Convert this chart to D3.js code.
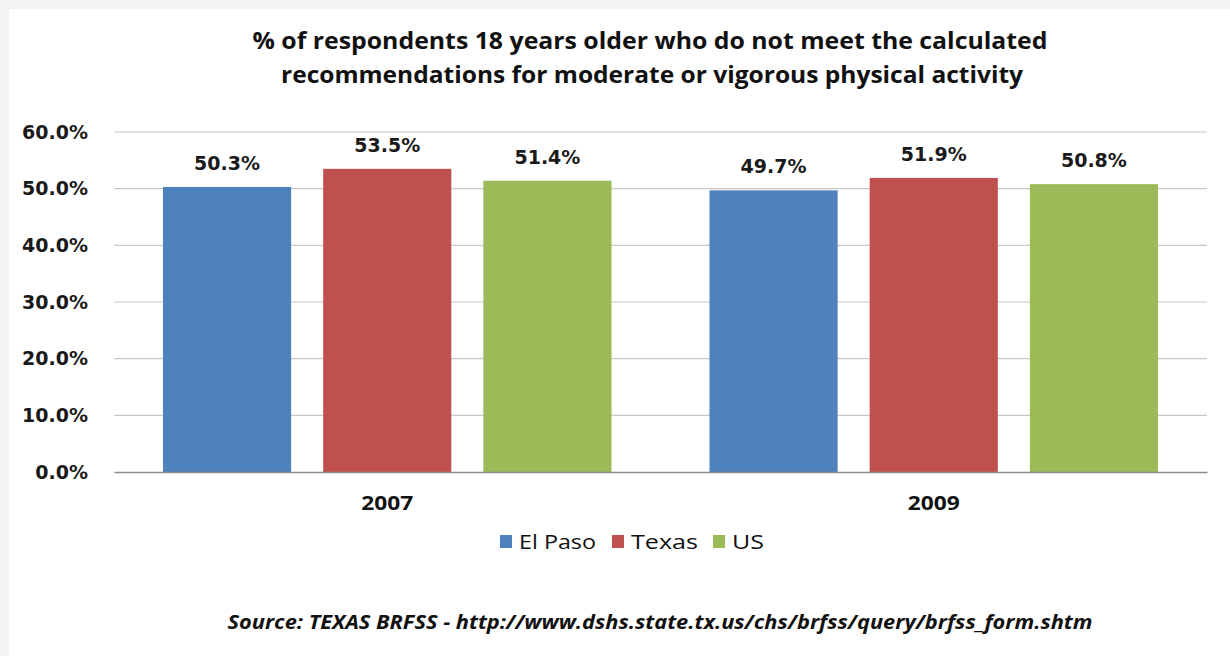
<!DOCTYPE html>
<html>
<head>
<meta charset="utf-8">
<script src="https://cdn.jsdelivr.net/npm/d3@7"></script>
<style>
  body { margin: 0; background: #fff; }
  svg { display: block; }
</style>
</head>
<body>
<svg id="chart" width="1230" height="656"></svg>
<script>
// data
let years = ['2007', '2009']
let series = ['El Paso', 'Texas', 'US']
let elPaso = [50.3, 49.7]
let texas = [53.5, 51.9]
let us = [51.4, 50.8]
let yTicks = [0, 10, 20, 30, 40, 50, 60]
let colors = ['#4F81BD', '#C0504D', '#9BBB59']

let titleLines = [
  '% of respondents 18 years older who do not meet the calculated',
  'recommendations for moderate or vigorous physical activity'
]
let sourceText = 'Source: TEXAS BRFSS - http://www.dshs.state.tx.us/chs/brfss/query/brfss_form.shtm'

let values = [elPaso, texas, us]
let rows = []
years.forEach((yr, i) => {
  series.forEach((s, j) => {
    rows.push({ year: yr, series: s, value: values[j][i], color: colors[j] })
  })
})

let svg = d3.select('#chart')

// faint outer frame like the pasted chart
svg.append('rect')
   .attr('x', 0).attr('y', 0).attr('width', 1230).attr('height', 656)
   .attr('fill', '#f3f3f3')
svg.append('rect')
   .attr('x', 9).attr('y', 9).attr('width', 1230).attr('height', 656)
   .attr('fill', '#fff')

let plotL = 114, plotR = 1207, plotT = 132, plotB = 472

let x0 = d3.scaleBand().domain(years).range([plotL, plotR])
let x1 = d3.scaleBand().domain(series)
           .range([49, x0.bandwidth() - 49])
           .paddingInner(0.2)
let y = d3.scaleLinear().domain([0, 60]).range([plotB, plotT])

// gridlines
svg.append('g')
   .selectAll('line')
   .data(yTicks.filter(t => t > 0))
   .enter()
   .append('line')
   .attr('x1', plotL).attr('x2', plotR)
   .attr('y1', d => y(d)).attr('y2', d => y(d))
   .attr('stroke', '#c8c8c8')
   .attr('stroke-width', 1.2)

// y axis labels
let yAxis = d3.axisLeft(y).tickValues(yTicks).tickSize(0).tickPadding(26)
              .tickFormat(d => d.toFixed(1) + '%')
let yg = svg.append('g').attr('transform', `translate(${plotL},0)`).call(yAxis)
yg.select('.domain').remove()
yg.selectAll('text')
  .attr('font-family', 'DejaVu Sans, Verdana, sans-serif')
  .attr('font-weight', 'bold')
  .attr('font-size', 19)
  .attr('fill', '#1a1a1a')

// bars
svg.append('g')
   .selectAll('rect')
   .data(rows)
   .enter()
   .append('rect')
   .attr('x', d => x0(d.year) + x1(d.series))
   .attr('y', d => y(d.value))
   .attr('width', x1.bandwidth())
   .attr('height', d => y(0) - y(d.value))
   .attr('fill', d => d.color)

// value labels
svg.append('g')
   .selectAll('text')
   .data(rows)
   .enter()
   .append('text')
   .attr('x', d => x0(d.year) + x1(d.series) + x1.bandwidth() / 2)
   .attr('y', d => y(d.value) - 17)
   .attr('text-anchor', 'middle')
   .attr('font-family', 'DejaVu Sans, Verdana, sans-serif')
   .attr('font-weight', 'bold')
   .attr('font-size', 19)
   .attr('fill', '#1a1a1a')
   .text(d => d.value.toFixed(1) + '%')

// x axis
let xAxis = d3.axisBottom(x0).tickSize(0).tickPadding(24)
let xg = svg.append('g').attr('transform', `translate(0,${plotB})`).call(xAxis)
xg.select('.domain').attr('stroke', '#8c8c8c').attr('stroke-width', 1.5)
xg.selectAll('text')
  .attr('font-family', 'Open Sans, sans-serif')
  .attr('font-weight', 'bold')
  .attr('font-size', 20)
  .attr('fill', '#111')
  .attr('textLength', 52)
  .attr('lengthAdjust', 'spacingAndGlyphs')

// title
svg.append('g')
   .selectAll('text')
   .data(titleLines)
   .enter()
   .append('text')
   .attr('x', (d, i) => i === 0 ? 650 : 652)
   .attr('y', (d, i) => 49 + i * 34)
   .attr('text-anchor', 'middle')
   .attr('font-family', 'Open Sans, sans-serif')
   .attr('font-weight', 'bold')
   .attr('font-size', 24)
   .attr('fill', '#111')
   .attr('textLength', (d, i) => i === 0 ? 795 : 742)
   .attr('lengthAdjust', 'spacingAndGlyphs')
   .text(d => d)

// legend
let legendX = [500, 612, 713]
let legendW = [77, 67, 32]
let lg = svg.append('g')
lg.selectAll('rect')
  .data(series)
  .enter()
  .append('rect')
  .attr('x', (d, i) => legendX[i])
  .attr('y', 535)
  .attr('width', 12).attr('height', 13)
  .attr('fill', (d, i) => colors[i])
lg.selectAll('text')
  .data(series)
  .enter()
  .append('text')
  .attr('x', (d, i) => legendX[i] + 19)
  .attr('y', 549)
  .attr('font-family', 'Open Sans, sans-serif')
  .attr('font-size', 20)
  .attr('fill', '#111')
  .attr('textLength', (d, i) => legendW[i])
  .attr('lengthAdjust', 'spacingAndGlyphs')
  .text(d => d)

// source note
svg.append('text')
   .attr('x', 660)
   .attr('y', 629)
   .attr('text-anchor', 'middle')
   .attr('font-family', 'Open Sans, sans-serif')
   .attr('font-weight', 'bold')
   .attr('font-style', 'italic')
   .attr('font-size', 19)
   .attr('fill', '#111')
   .attr('textLength', 865)
   .attr('lengthAdjust', 'spacingAndGlyphs')
   .text(sourceText)
</script>
</body>
</html>
